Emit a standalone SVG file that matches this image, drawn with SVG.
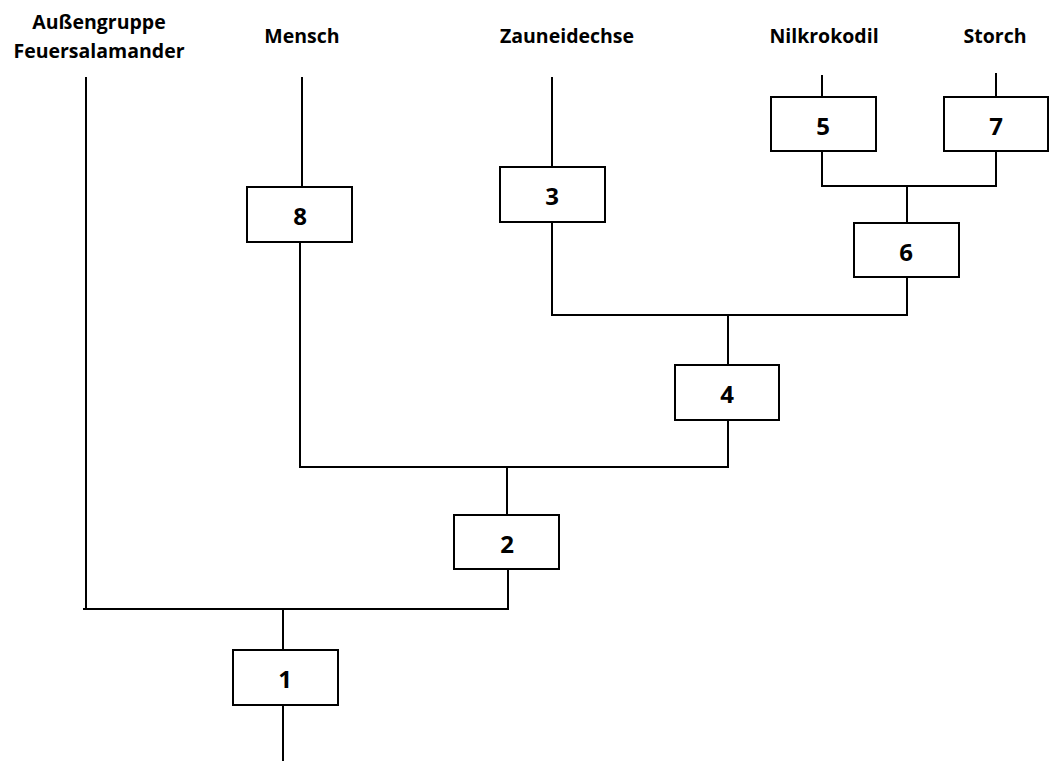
<svg xmlns="http://www.w3.org/2000/svg" width="1049" height="761" viewBox="0 0 1049 761">
  <style>
    .ln { stroke: #000; stroke-width: 2; fill: none; }
    .box rect { fill: #fff; stroke: #000; stroke-width: 2; }
    .box text { font-family: "Open Sans", "Liberation Sans", sans-serif; font-weight: bold; font-size: 24px; text-anchor: middle; dominant-baseline: central; fill: #000; }
    .lbl { font-family: "Open Sans", "Liberation Sans", sans-serif; font-weight: bold; font-size: 19.5px; text-anchor: middle; fill: #000; }
  </style>
  <rect width="1049" height="761" fill="#fff"/>

  <!-- taxon labels -->
  <g id="labels">
    <text class="lbl" x="99" y="29">Außengruppe</text>
    <text class="lbl" x="99" y="58">Feuersalamander</text>
    <text class="lbl" x="302" y="43">Mensch</text>
    <text class="lbl" x="567" y="43">Zauneidechse</text>
    <text class="lbl" x="824" y="43">Nilkrokodil</text>
    <text class="lbl" x="995" y="43">Storch</text>
  </g>

  <!-- tree branches -->
  <g id="connectors">
    <path class="ln" d="M86,77 V609 M83,609 H508 V569"/>
    <path class="ln" d="M283,609 V650 M283,705 V761"/>
    <path class="ln" d="M302,77 V187 M300,242 V467 H728 V420"/>
    <path class="ln" d="M507,467 V515"/>
    <path class="ln" d="M552,77 V167 M552,222 V315 H907 V277"/>
    <path class="ln" d="M728,315 V365"/>
    <path class="ln" d="M822,75 V97 M822,151 V186 H996 V151 M996,73 V97"/>
    <path class="ln" d="M907,186 V223"/>
  </g>

  <!-- character boxes -->
  <g id="node-1" class="box"><rect x="233" y="650" width="105" height="55"/><text x="285" y="678">1</text></g>
  <g id="node-2" class="box"><rect x="454" y="515" width="105" height="54"/><text x="507" y="543">2</text></g>
  <g id="node-3" class="box"><rect x="500" y="167" width="105" height="55"/><text x="552" y="195">3</text></g>
  <g id="node-4" class="box"><rect x="675" y="365" width="104" height="55"/><text x="727" y="393">4</text></g>
  <g id="node-5" class="box"><rect x="771" y="97" width="105" height="54"/><text x="823" y="125">5</text></g>
  <g id="node-6" class="box"><rect x="854" y="223" width="105" height="54"/><text x="906" y="251">6</text></g>
  <g id="node-7" class="box"><rect x="944" y="97" width="104" height="54"/><text x="996" y="125">7</text></g>
  <g id="node-8" class="box"><rect x="247" y="187" width="105" height="55"/><text x="300" y="215">8</text></g>
</svg>
